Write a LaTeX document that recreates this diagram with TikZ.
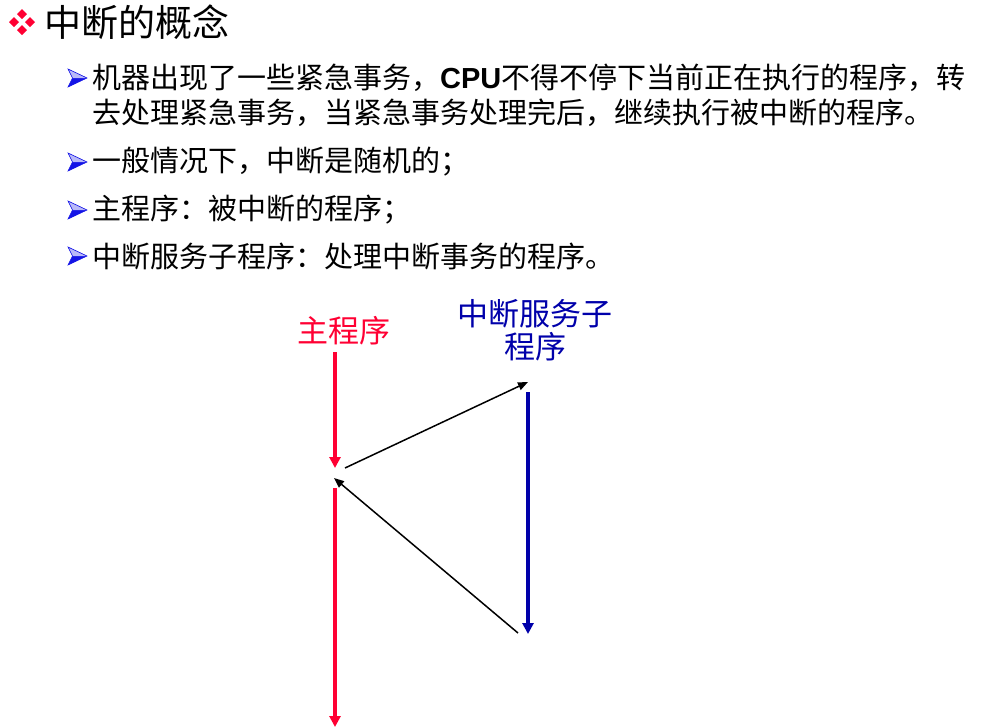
\documentclass[tikz,border=0pt]{standalone}
\usepackage{fontspec}
\setmainfont{Noto Sans CJK SC}
\newfontfamily\cjk{Noto Sans CJK SC}
\newfontfamily\arial{Liberation Sans}
\usetikzlibrary{arrows.meta}
\definecolor{myred}{RGB}{255,0,51}
\definecolor{myblue}{RGB}{0,0,170}
\definecolor{bulblue}{RGB}{20,20,230}
\tikzset{
  bodytext/.style={anchor=west,inner sep=0pt,font=\cjk\fontsize{29}{35}\selectfont},
  titletext/.style={anchor=west,inner sep=0pt,font=\cjk\fontsize{37}{44}\selectfont},
  labeltext/.style={inner sep=0pt,align=center,font=\cjk\fontsize{31}{37}\selectfont},
  redline/.style={draw=myred,line width=3.5pt,-{Triangle[width=11pt,length=11pt]}},
  blueline/.style={draw=myblue,line width=3.5pt,-{Triangle[width=11pt,length=11pt]}},
  blackline/.style={draw=black,line width=1.5pt,-{Triangle[width=8pt,length=10pt]}},
  bulletpic/.pic={
    \fill[bulblue] (-9.5,-9) -- (9.5,0) -- (-9.5,9) -- (-5,0) -- cycle;
    \fill[bulblue!30!white] (-9.5,-9) -- (9.5,0) -- (-5,0) -- cycle;
    \draw[bulblue,line width=0.6pt] (-9.5,-9) -- (9.5,0) -- (-9.5,9) -- (-5,0) -- cycle;
  },
  reddia/.style={fill=myred}
}
\begin{document}
\begin{tikzpicture}[x=1pt,y=-1pt]
\useasboundingbox (0,0) rectangle (999,726);
% title bullet
\foreach \dx/\dy in {0/-8,-8/0,8/0,0/8}{
  \fill[reddia] (22+\dx,22+\dy-5) -- (22+\dx+5,22+\dy) -- (22+\dx,22+\dy+5) -- (22+\dx-5,22+\dy) -- cycle;
}
\node[titletext] (title) at (44,22) {中断的概念};
% bullets
\foreach \y in {78,162,210,256}{
  \pic at (77.5,\y) {bulletpic};
}
\node[bodytext] (l1) at (92,78) {机器出现了一些紧急事务，{\arial\bfseries CPU}不得不停下当前正在执行的程序，转};
\node[bodytext] (l2) at (92,113) {去处理紧急事务，当紧急事务处理完后，继续执行被中断的程序。};
\node[bodytext] (l3) at (92,162) {一般情况下，中断是随机的；};
\node[bodytext] (l4) at (92,210) {主程序：被中断的程序；};
\node[bodytext] (l5) at (92,256) {中断服务子程序：处理中断事务的程序。};
% diagram labels
\node[labeltext,text=myred] (mainlab) at (344,331) {主程序};
\node[labeltext,text=myblue] (isrlab) at (535,330) {中断服务子\\[-4pt]程序};
% coordinates
\coordinate (m1top) at (335,352);
\coordinate (m1bot) at (335,468);
\coordinate (a1s) at (345,468);
\coordinate (a1e) at (528,382);
\coordinate (btop) at (528,392);
\coordinate (bbot) at (528,634);
\coordinate (a2s) at (518,633);
\coordinate (a2e) at (334,478);
\coordinate (m2top) at (335,488);
\coordinate (m2bot) at (335,727);
\draw[redline] (m1top) -- (m1bot);
\draw[blackline] (a1s) -- (a1e);
\draw[blueline] (btop) -- (bbot);
\draw[blackline] (a2s) -- (a2e);
\draw[redline] (m2top) -- (m2bot);
\end{tikzpicture}
\end{document}
